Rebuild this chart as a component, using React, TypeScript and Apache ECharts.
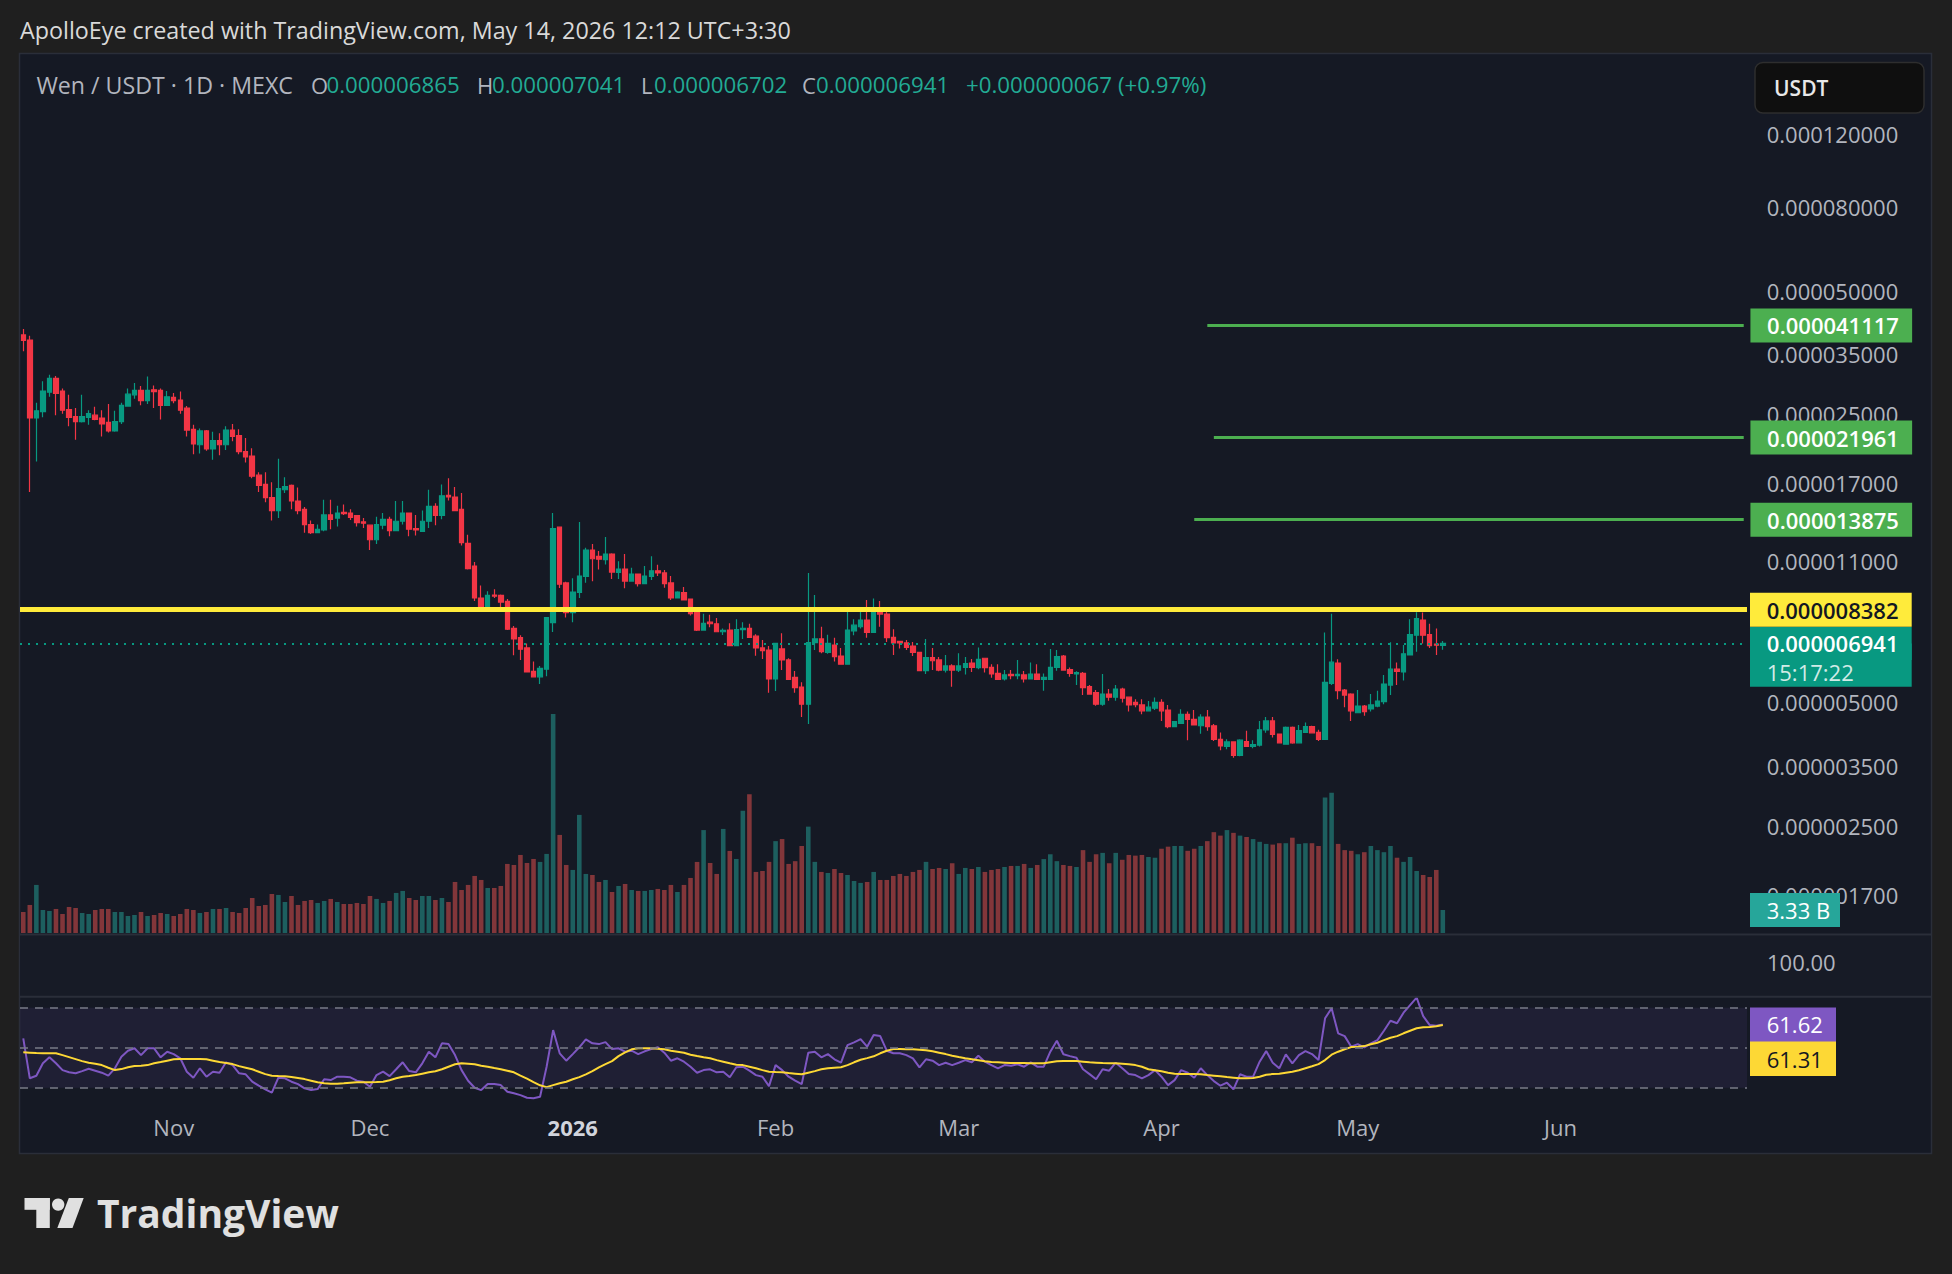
import React, { useEffect, useRef } from "react";
import * as echarts from "echarts";

const FONT = "'Open Sans', 'Noto Sans', sans-serif";

// ---- categories (daily, Oct 9 2025 -> Jun 29 2026) ----
const TOTAL_DAYS = 264;
const dates: string[] = [];
for (let i = 0; i < TOTAL_DAYS; i++) {
  dates.push(new Date(Date.UTC(2025, 9, 9 + i)).toISOString().slice(0, 10));
}
const MONTHS = ["Jan", "Feb", "Mar", "Apr", "May", "Jun", "Jul", "Aug", "Sep", "Oct", "Nov", "Dec"];

// ---- candles, prices in micro-USDT (1e-6): [open, high, low, close] ----
const ohlc: number[][] = [
  [39.0, 40.3, 35.6, 37.8], [37.9, 38.8, 16.2, 24.5], [24.5, 26.7, 19.2, 25.5], [25.4, 30.1, 24.6, 28.5],
  [28.3, 31.2, 27.6, 30.6], [30.6, 31.0, 24.9, 28.1], [28.5, 28.9, 25.1, 25.6], [25.7, 27.9, 23.4, 24.6],
  [24.7, 25.9, 21.7, 24.0], [24.0, 27.9, 23.9, 24.7], [24.6, 25.6, 23.6, 25.1], [24.9, 26.1, 24.2, 24.3],
  [24.5, 25.6, 22.1, 23.7], [23.9, 26.5, 22.6, 22.8], [22.8, 25.5, 22.7, 24.0], [24.0, 26.7, 23.7, 26.3],
  [26.2, 28.9, 26.1, 28.0], [27.9, 29.8, 27.3, 28.6], [28.6, 29.3, 26.3, 27.0], [27.0, 30.9, 26.5, 28.6],
  [28.7, 29.4, 25.9, 28.4], [28.6, 28.9, 24.3, 26.3], [26.3, 28.5, 26.2, 27.6], [27.5, 28.2, 26.6, 27.0],
  [27.1, 28.4, 25.1, 25.6], [25.9, 26.2, 22.1, 22.9], [23.0, 23.6, 20.0, 21.2], [21.1, 23.1, 20.1, 22.8],
  [22.8, 22.9, 20.4, 20.6], [20.6, 22.7, 19.4, 21.6], [21.6, 22.5, 19.9, 21.1], [21.1, 23.4, 20.5, 22.9],
  [22.9, 23.7, 21.5, 22.1], [22.2, 23.0, 20.0, 20.3], [20.3, 21.9, 19.1, 19.7], [19.8, 20.7, 17.5, 17.7],
  [17.8, 18.1, 16.2, 16.8], [16.9, 18.1, 15.3, 15.7], [15.7, 17.1, 13.8, 14.6], [14.6, 19.5, 14.0, 16.5],
  [16.4, 17.6, 16.1, 16.7], [16.8, 16.9, 14.7, 15.4], [15.4, 16.6, 14.3, 14.6], [14.7, 14.9, 12.9, 13.5],
  [13.5, 13.8, 12.8, 12.9], [12.9, 13.5, 12.85, 13.15], [13.1, 15.5, 13.0, 14.25], [14.25, 15.5, 13.15, 13.9],
  [14.0, 15.0, 13.35, 14.4], [14.45, 15.1, 14.25, 14.35], [14.4, 14.7, 13.85, 14.05], [14.2, 14.25, 13.35, 13.65],
  [13.7, 14.0, 13.25, 13.6], [13.45, 13.5, 11.7, 12.4], [12.4, 14.1, 12.1, 13.5], [13.45, 14.4, 13.15, 13.9],
  [13.9, 14.1, 12.65, 13.05], [13.05, 15.4, 13.0, 13.75], [13.75, 15.4, 13.5, 14.4], [14.4, 14.45, 12.65, 13.15],
  [13.2, 14.25, 12.7, 13.1], [13.0, 14.6, 12.98, 13.75], [13.75, 16.4, 13.25, 14.95], [14.95, 15.2, 13.45, 14.2],
  [14.2, 16.9, 13.9, 15.85], [15.9, 17.5, 15.45, 15.75], [15.75, 16.65, 14.55, 14.6], [14.7, 16.1, 12.0, 12.2],
  [12.15, 12.75, 10.5, 10.55], [10.7, 10.95, 8.8, 8.95], [8.95, 9.6, 8.43, 8.45], [8.45, 9.3, 8.4, 9.08],
  [9.1, 9.4, 8.95, 9.05], [9.08, 9.13, 8.5, 8.75], [8.78, 8.9, 7.48, 7.52], [7.55, 7.65, 6.5, 7.12],
  [7.17, 7.27, 6.33, 6.72], [6.77, 6.94, 5.9, 5.92], [5.94, 6.27, 5.74, 5.76], [5.76, 6.12, 5.53, 6.04],
  [6.01, 8.05, 5.78, 8.02], [7.8, 14.4, 7.4, 13.2], [13.3, 13.35, 9.47, 9.67], [9.74, 9.8, 8.02, 8.25],
  [8.25, 10.0, 7.82, 9.25], [9.23, 13.7, 8.95, 10.12], [10.1, 11.85, 9.75, 11.7], [11.7, 12.1, 9.83, 11.15],
  [11.3, 11.65, 10.5, 11.12], [11.1, 12.6, 10.8, 11.45], [11.45, 11.5, 9.95, 10.35], [10.33, 11.0, 9.95, 10.52],
  [10.52, 11.45, 9.45, 9.84], [9.84, 10.6, 9.8, 10.23], [10.23, 10.27, 9.55, 9.7], [9.7, 10.7, 9.68, 10.12],
  [10.1, 11.3, 9.9, 10.42], [10.42, 10.78, 10.12, 10.3], [10.3, 10.47, 9.48, 9.7], [9.74, 10.12, 8.85, 8.95],
  [8.95, 9.3, 8.92, 9.25], [9.22, 9.52, 8.83, 8.85], [8.9, 8.92, 8.12, 8.2], [8.25, 8.4, 7.44, 7.48],
  [7.48, 8.2, 7.45, 7.77], [7.82, 8.15, 7.6, 7.75], [7.75, 8.0, 7.39, 7.41], [7.41, 7.55, 7.28, 7.47],
  [7.48, 7.77, 6.84, 6.86], [6.86, 7.95, 6.84, 7.5], [7.5, 7.82, 7.12, 7.55], [7.55, 7.75, 7.16, 7.18],
  [7.23, 7.31, 6.48, 6.77], [6.77, 7.08, 6.36, 6.67], [6.69, 6.84, 5.27, 5.69], [5.69, 6.95, 5.32, 6.94],
  [6.73, 7.35, 5.98, 6.33], [6.33, 6.39, 5.66, 5.68], [5.74, 5.95, 5.27, 5.42], [5.44, 5.59, 4.6, 4.94],
  [4.94, 10.3, 4.42, 6.97], [6.97, 9.1, 6.69, 7.12], [7.12, 7.62, 6.57, 6.63], [6.6, 7.29, 6.55, 6.94],
  [6.88, 7.17, 6.27, 6.45], [6.47, 6.77, 6.16, 6.18], [6.18, 8.47, 6.17, 7.48], [7.45, 7.95, 7.27, 7.69],
  [7.62, 8.3, 7.55, 7.91], [7.91, 8.85, 7.17, 7.38], [7.38, 8.93, 7.36, 8.33], [8.33, 8.8, 7.62, 8.18],
  [8.18, 8.3, 7.0, 7.17], [7.18, 7.52, 6.51, 6.96], [7.02, 7.04, 6.75, 6.96], [6.96, 7.08, 6.69, 6.79],
  [6.84, 7.0, 6.47, 6.6], [6.6, 6.62, 5.95, 5.96], [5.96, 7.12, 5.85, 6.41], [6.41, 6.77, 5.98, 6.3],
  [6.33, 6.43, 5.94, 5.98], [5.98, 6.51, 5.9, 6.12], [6.12, 6.18, 5.45, 5.98], [5.98, 6.57, 5.92, 6.12],
  [6.07, 6.43, 5.83, 6.2], [6.22, 6.36, 5.92, 6.07], [6.06, 6.79, 6.01, 6.35], [6.39, 6.4, 5.9, 6.06],
  [6.07, 6.18, 5.73, 5.85], [5.87, 6.18, 5.67, 5.68], [5.69, 5.98, 5.64, 5.82], [5.84, 5.98, 5.68, 5.8],
  [5.8, 6.33, 5.68, 5.84], [5.82, 5.95, 5.58, 5.69], [5.69, 6.24, 5.68, 5.85], [5.85, 6.18, 5.67, 5.68],
  [5.68, 5.87, 5.33, 5.74], [5.68, 6.73, 5.67, 6.07], [6.07, 6.69, 5.96, 6.45], [6.47, 6.51, 5.96, 5.98],
  [6.0, 6.07, 5.76, 5.87], [5.85, 5.94, 5.5, 5.9], [5.87, 5.92, 5.2, 5.42], [5.45, 5.5, 5.22, 5.23],
  [5.27, 5.35, 4.9, 4.94], [4.94, 5.85, 4.9, 5.23], [5.23, 5.38, 5.04, 5.14], [5.14, 5.5, 5.04, 5.38],
  [5.38, 5.42, 4.99, 5.11], [5.14, 5.16, 4.74, 4.92], [4.99, 5.08, 4.86, 4.93], [4.92, 5.08, 4.67, 4.76],
  [4.76, 5.03, 4.75, 4.86], [4.83, 5.13, 4.78, 4.99], [4.99, 5.08, 4.5, 4.76], [4.78, 4.92, 4.32, 4.36],
  [4.36, 4.5, 4.34, 4.48], [4.44, 4.8, 4.42, 4.67], [4.67, 4.74, 4.04, 4.54], [4.54, 4.78, 4.39, 4.4],
  [4.38, 4.67, 4.19, 4.6], [4.6, 4.78, 4.26, 4.36], [4.38, 4.42, 4.02, 4.06], [4.06, 4.22, 3.82, 3.91],
  [3.9, 4.06, 3.84, 4.0], [4.0, 4.01, 3.66, 3.71], [3.71, 4.06, 3.69, 4.04], [4.01, 4.26, 3.89, 3.9],
  [3.9, 4.04, 3.86, 3.94], [3.93, 4.5, 3.9, 4.28], [4.28, 4.6, 4.21, 4.5], [4.5, 4.6, 4.1, 4.17],
  [4.18, 4.19, 3.97, 3.98], [3.95, 4.36, 3.94, 4.34], [4.34, 4.36, 3.96, 3.98], [3.98, 4.4, 3.97, 4.26],
  [4.22, 4.46, 4.21, 4.36], [4.36, 4.38, 4.2, 4.21], [4.22, 4.28, 4.02, 4.06], [4.06, 7.38, 4.05, 5.58],
  [5.55, 8.2, 5.5, 6.25], [6.22, 6.35, 5.08, 5.33], [5.35, 5.38, 4.86, 5.2], [5.23, 5.25, 4.5, 4.76],
  [4.71, 5.35, 4.7, 4.89], [4.89, 4.92, 4.63, 4.74], [4.81, 5.23, 4.74, 4.92], [4.89, 5.33, 4.86, 5.03],
  [5.01, 5.82, 4.94, 5.53], [5.5, 6.99, 5.2, 6.01], [6.01, 6.24, 5.5, 5.94], [5.92, 6.88, 5.64, 6.55],
  [6.51, 7.95, 6.5, 7.29], [7.27, 8.27, 6.63, 7.98], [7.91, 8.25, 6.94, 7.27], [7.29, 7.75, 6.77, 6.86],
  [6.92, 7.55, 6.51, 6.874], [6.865, 7.041, 6.702, 6.941],
];

// ---- volume, billions ----
const volumes: number[] = [
  3.04, 4.06, 6.96, 3.33, 3.19, 3.48, 2.75, 3.77, 3.62, 2.90,
  2.75, 3.33, 3.48, 3.48, 3.04, 3.04, 2.46, 2.61, 3.04, 2.46,
  2.61, 2.90, 2.75, 2.46, 2.75, 3.48, 3.33, 2.90, 3.04, 3.48,
  3.48, 3.62, 3.04, 2.90, 3.62, 5.07, 3.91, 4.06, 5.65, 5.51,
  4.49, 5.36, 4.06, 4.64, 4.78, 4.35, 4.64, 4.93, 4.49, 4.20,
  4.20, 4.35, 4.20, 5.36, 4.93, 4.35, 4.64, 5.80, 6.09, 5.07,
  4.78, 5.36, 5.36, 4.78, 5.07, 4.49, 7.39, 6.23, 6.96, 8.26,
  7.68, 6.52, 6.52, 6.81, 10.0, 9.85, 11.3, 10.14, 10.72, 10.29,
  11.45, 31.7, 14.2, 9.85, 9.13, 17.1, 8.55, 8.40, 7.39, 7.68,
  5.94, 6.81, 7.10, 6.23, 6.09, 6.09, 6.23, 6.38, 6.23, 6.96,
  5.94, 6.96, 7.97, 10.29, 14.9, 10.14, 8.55, 15.07, 11.88, 10.72,
  17.7, 20.1, 8.84, 8.98, 10.3, 13.3, 13.6, 10.0, 10.4, 12.6,
  15.4, 10.3, 8.84, 8.69, 9.27, 8.69, 8.40, 7.53, 7.25, 7.39,
  8.84, 7.68, 7.68, 8.26, 8.55, 8.26, 8.84, 9.13, 10.3, 9.27,
  9.42, 9.27, 10.1, 8.55, 9.42, 9.27, 9.56, 8.84, 9.13, 9.27,
  9.56, 9.71, 9.71, 10.0, 9.42, 9.85, 10.7, 11.4, 10.4, 9.85,
  9.71, 9.56, 12.0, 10.3, 11.4, 11.6, 10.1, 11.6, 10.6, 11.3,
  11.2, 11.3, 11.0, 10.9, 12.2, 12.5, 12.6, 12.6, 11.9, 12.2,
  12.6, 13.3, 14.6, 14.1, 14.9, 14.5, 14.1, 13.9, 13.6, 13.2,
  12.9, 12.8, 13.0, 13.0, 13.8, 12.9, 13.0, 13.0, 12.6, 19.6,
  20.3, 12.9, 12.0, 11.9, 11.4, 11.7, 12.6, 12.0, 11.7, 12.6,
  10.9, 10.3, 11.0, 8.98, 8.40, 8.11, 9.13, 3.33,
];

// ---- RSI and its moving average ----
const rsi: number[] = [
  54.7, 34.7, 36.0, 42.2, 45.2, 42.2, 38.8, 37.7, 37.2, 38.3,
  39.5, 38.5, 37.5, 36.0, 39.7, 45.5, 48.5, 49.7, 46.3, 49.7,
  49.7, 45.2, 48.0, 46.8, 44.7, 38.0, 35.0, 39.7, 35.5, 38.0,
  37.5, 42.7, 41.3, 37.2, 36.7, 33.0, 31.0, 29.2, 27.5, 35.0,
  34.7, 33.0, 31.8, 29.7, 28.8, 29.3, 34.2, 33.8, 35.5, 35.5,
  35.2, 33.5, 33.0, 30.5, 36.3, 38.0, 35.8, 39.2, 42.7, 38.3,
  37.7, 42.2, 48.0, 45.2, 52.2, 51.8, 46.3, 38.8, 33.5, 30.0,
  28.8, 31.8, 31.8, 31.3, 28.0, 27.2, 26.3, 25.0, 24.7, 25.5,
  40.5, 58.8, 47.2, 43.5, 46.8, 50.2, 54.2, 52.2, 51.8, 52.8,
  49.3, 49.7, 48.0, 48.5, 46.8, 48.2, 49.3, 50.2, 47.5, 43.5,
  44.7, 43.0, 40.5, 37.5, 38.8, 39.2, 37.7, 38.0, 35.2, 40.2,
  40.5, 38.5, 36.3, 35.5, 30.8, 41.3, 38.8, 35.5, 33.5, 31.8,
  47.5, 48.0, 45.2, 46.8, 44.2, 42.5, 51.3, 52.7, 54.3, 50.5,
  56.3, 55.8, 48.5, 47.2, 47.2, 46.3, 44.7, 40.2, 44.2, 43.5,
  41.3, 42.5, 41.3, 42.5, 43.8, 42.7, 46.0, 43.0, 41.3, 39.7,
  41.3, 41.0, 41.7, 40.5, 42.7, 40.5, 40.5, 48.0, 53.5, 46.7,
  45.8, 45.0, 39.2, 36.8, 34.2, 39.2, 38.5, 42.5, 39.7, 36.8,
  36.3, 34.7, 36.3, 38.8, 35.5, 31.3, 33.8, 38.8, 37.5, 35.0,
  39.7, 36.3, 33.3, 31.0, 32.5, 29.2, 36.7, 35.5, 35.5, 43.0,
  48.3, 42.5, 39.7, 46.7, 42.2, 46.3, 48.3, 46.8, 43.8, 64.7,
  69.7, 57.2, 55.8, 50.5, 51.8, 50.2, 52.2, 53.8, 58.5, 63.5,
  62.2, 67.5, 71.3, 75.0, 65.8, 61.3, 61.0, 61.62,
];
const rsiMa: number[] = [
  47.7, 47.5, 47.3, 47.2, 47.2, 47.2, 46.3, 45.3, 44.3, 43.3,
  42.5, 42.0, 41.3, 40.0, 38.8, 39.3, 40.2, 40.8, 41.0, 41.3,
  42.2, 42.8, 43.5, 44.2, 44.3, 44.3, 44.3, 44.3, 44.2, 43.5,
  42.8, 42.3, 41.8, 40.8, 40.0, 39.2, 38.0, 36.8, 36.0, 35.8,
  35.7, 35.3, 34.8, 34.3, 33.5, 32.7, 32.2, 32.0, 32.0, 32.2,
  32.5, 32.7, 32.7, 32.7, 32.8, 33.0, 33.7, 34.7, 35.5, 35.8,
  36.3, 37.0, 37.7, 38.2, 39.2, 40.5, 41.7, 42.2, 42.0, 41.7,
  41.0, 40.5, 39.8, 39.2, 38.5, 37.7, 36.0, 34.5, 32.8, 31.2,
  30.3, 31.3, 32.2, 33.0, 34.2, 35.3, 36.7, 38.3, 40.2, 41.8,
  43.3, 45.8, 47.7, 49.2, 49.7, 49.7, 49.7, 49.5, 49.2, 48.5,
  48.0, 47.5, 46.5, 45.8, 45.2, 44.7, 43.8, 43.0, 42.2, 41.5,
  41.3, 40.5, 39.7, 38.8, 38.0, 37.8, 37.7, 37.3, 37.0, 36.7,
  37.5, 38.3, 39.2, 39.7, 40.0, 40.2, 41.3, 42.7, 44.0, 44.8,
  45.7, 47.2, 48.5, 49.3, 49.3, 49.2, 49.2, 49.0, 48.7, 48.2,
  47.5, 46.8, 46.0, 45.3, 44.7, 44.2, 43.7, 43.2, 42.8, 42.7,
  42.5, 42.3, 42.3, 42.3, 42.2, 42.2, 42.2, 42.7, 43.2, 43.3,
  43.3, 43.3, 43.0, 42.7, 42.5, 42.3, 42.2, 42.2, 42.0, 41.7,
  41.3, 40.5, 39.2, 38.7, 38.2, 37.5, 37.0, 36.8, 36.8, 36.8,
  36.7, 36.3, 36.0, 35.7, 35.3, 35.0, 34.7, 34.7, 34.8, 35.5,
  36.5, 36.8, 37.0, 37.5, 38.0, 38.7, 39.7, 40.7, 41.8, 43.8,
  46.5, 48.0, 49.2, 50.3, 50.5, 50.8, 51.7, 52.5, 53.8, 55.0,
  55.8, 57.2, 58.5, 59.7, 60.2, 60.3, 60.7, 61.31,
];

// ---- levels and axis ticks (micro-USDT) ----
const priceTicks = [120, 80, 50, 35, 25, 17, 11, 5, 3.5, 2.5, 1.7];
const resistanceLevel = 8.382;
const targetLevels = [41.117, 21.961, 13.875];
const targetStartIndex = [181, 182, 179];
const countdown = "15:17:22";
const rsiLevels = [70, 50, 30];
const emptyPaneLabel = "100.00";

// ---- colours ----
const UP = "#089981";
const DOWN = "#f23645";
const VOL_UP = "rgba(38,166,154,0.5)";
const VOL_DOWN = "rgba(239,83,80,0.5)";
const AXIS_TXT = "#b2b5be";
const PANEL = "#151924";

// ---- layout ----
const G_LEFT = 20;
const G_WIDTH = 1727;
const PRICE_TOP = 54;
const PRICE_H = 880;
const PRICE_MIN = 1.3659;
const PRICE_MAX = 187.8;
const VOL_TOP = 634;
const VOL_H = 299;
const VOL_MAX = 43.29;
const RSI_TOP = 998;
const RSI_H = 102;
const RSI_MIN = 23.85;
const RSI_MAX = 74.85;

const fmtPrice = (v: number) => (v * 1e-6).toFixed(9);

const boxLabel = (text: string, bg: string, color: string, distance: number, width: number, padding: number[], extra: any = {}) => ({
  show: true,
  position: "end",
  distance,
  formatter: text,
  backgroundColor: bg,
  color,
  fontFamily: FONT,
  fontSize: 22,
  fontWeight: 600,
  lineHeight: 22,
  width,
  padding,
  ...extra,
});

function buildOption() {
  const last = ohlc[ohlc.length - 1];
  const prevClose = ohlc[ohlc.length - 2][3];
  const lastClose = last[3];
  const change = lastClose - prevClose;
  const changePct = (change / prevClose) * 100;
  const endIdx = TOTAL_DAYS - 1;

  const candleData = ohlc.map(([o, h, l, c]) => [o, c, l, h]);
  const volData = volumes.map((v, i) => ({
    value: v,
    itemStyle: { color: ohlc[i][3] >= ohlc[i][0] ? VOL_UP : VOL_DOWN },
  }));

  const invisible = { color: "rgba(0,0,0,0)", width: 1, type: "solid" };

  const priceMarkLines: any[] = [];
  priceTicks.forEach((t) =>
    priceMarkLines.push({
      yAxis: t,
      lineStyle: invisible,
      label: {
        show: true,
        position: "end",
        distance: 19.7,
        formatter: fmtPrice(t),
        color: AXIS_TXT,
        fontFamily: FONT,
        fontSize: 22,
      },
    })
  );
  targetLevels.forEach((lv, k) =>
    priceMarkLines.push([
      {
        coord: [targetStartIndex[k], lv],
        lineStyle: { color: "#4caf50", width: 3, type: "solid" },
        label: boxLabel(fmtPrice(lv), "#4caf50", "#ffffff", 6.7, 136, [6, 9, 6, 16.7]),
      },
      { coord: [endIdx, lv] },
    ])
  );
  priceMarkLines.push({
    yAxis: resistanceLevel,
    lineStyle: { color: "#ffeb3b", width: 5, type: "solid" },
    label: boxLabel(fmtPrice(resistanceLevel), "#ffeb3b", "#131722", 3, 136, [6, 9, 6, 16.7]),
  });
  // countdown box sits under the last-price box
  priceMarkLines.push({
    yAxis: lastClose,
    lineStyle: invisible,
    label: boxLabel(countdown, UP, "rgba(255,255,255,0.82)", 3, 136, [17.3, 9, 4, 16.7], {
      verticalAlign: "top",
      fontWeight: 500,
    }),
  });
  priceMarkLines.push({
    yAxis: lastClose,
    lineStyle: { color: UP, width: 2, type: [2, 6] },
    label: boxLabel(fmtPrice(lastClose), UP, "#ffffff", 3, 136, [6, 9, 5, 16.7]),
  });

  const rsiMarkLines: any[] = rsiLevels.map((lv) => ({
    yAxis: lv,
    lineStyle: { color: "#787b86", width: 1.5, type: [8, 7] },
    label: { show: false },
  }));
  const maLast = rsiMa[rsiMa.length - 1];
  const rsiLast = rsi[rsi.length - 1];
  rsiMarkLines.push({
    yAxis: maLast,
    lineStyle: invisible,
    label: boxLabel(maLast.toFixed(2), "#fdd835", "#131722", 3, 56, [22.9, 13.3, 6, 16.7], {
      verticalAlign: "top",
      fontWeight: 500,
    }),
  });
  rsiMarkLines.push({
    yAxis: rsiLast,
    lineStyle: invisible,
    label: boxLabel(rsiLast.toFixed(2), "#7e57c2", "#ffffff", 3, 56, [6, 13.3, 6, 16.7], { fontWeight: 500 }),
  });

  const legendY = 84.7;
  const txt = (text: string, x: number, y: number, fill: string, size: number, extra: any = {}) => ({
    type: "text",
    z: 20,
    style: {
      text,
      x,
      y,
      fill,
      fontFamily: FONT,
      fontSize: size,
      verticalAlign: "middle",
      ...extra,
    },
  });

  const LOGO = "#e0e0e0";
  const graphic: any[] = [
    // chart panel
    {
      type: "rect",
      z: 0,
      shape: { x: 19.5, y: 53.5, width: 1912, height: 1100 },
      style: { fill: PANEL, stroke: "#2a2e39", lineWidth: 1.5 },
    },
    {
      type: "rect",
      z: 0,
      shape: { x: 20.5, y: 935.5, width: 1910.5, height: 61 },
      style: { fill: "#171b26" },
    },
    {
      type: "line",
      z: 20,
      shape: { x1: 20, y1: 934.6, x2: 1931, y2: 934.6 },
      style: { stroke: "#2a2e39", lineWidth: 2 },
    },
    {
      type: "line",
      z: 20,
      shape: { x1: 20, y1: 996.8, x2: 1931, y2: 996.8 },
      style: { stroke: "#2a2e39", lineWidth: 2 },
    },
    // header
    txt("ApolloEye created with TradingView.com, May 14, 2026 12:12 UTC+3:30", 20, 30, "#d9d9d9", 23.3),
    // legend
    txt("Wen / USDT · 1D · MEXC", 36.4, legendY, AXIS_TXT, 23.2),
    txt("O", 311, legendY, AXIS_TXT, 22),
    txt(fmtPrice(last[0]), 326.5, legendY, "#22ab94", 22.3),
    txt("H", 477, legendY, AXIS_TXT, 22),
    txt(fmtPrice(last[1]), 492, legendY, "#22ab94", 22.3),
    txt("L", 641, legendY, AXIS_TXT, 22),
    txt(fmtPrice(last[2]), 654, legendY, "#22ab94", 22.3),
    txt("C", 802, legendY, AXIS_TXT, 22),
    txt(fmtPrice(last[3]), 816, legendY, "#22ab94", 22.3),
    txt(
      `${change >= 0 ? "+" : "-"}${fmtPrice(Math.abs(change))} (${change >= 0 ? "+" : "-"}${Math.abs(changePct).toFixed(2)}%)`,
      966,
      legendY,
      "#22ab94",
      22.3
    ),
    // currency button
    {
      type: "rect",
      z: 20,
      shape: { x: 1755, y: 62.5, width: 169, height: 50.5, r: 8 },
      style: { fill: "#0f0f0f", stroke: "#2e2e2e", lineWidth: 1.5 },
    },
    txt("USDT", 1774, 88, "#e8e8e8", 21, { fontWeight: 600 }),
    // empty pane scale label
    txt(emptyPaneLabel, 1767, 961.7, AXIS_TXT, 22),
    // TradingView logo
    { type: "rect", z: 20, shape: { x: 24.5, y: 1198, width: 25.3, height: 11.8 }, style: { fill: LOGO } },
    { type: "rect", z: 20, shape: { x: 36.3, y: 1198, width: 13.5, height: 30 }, style: { fill: LOGO } },
    { type: "circle", z: 20, shape: { cx: 58.2, cy: 1204.6, r: 6.2 }, style: { fill: LOGO } },
    {
      type: "polygon",
      z: 20,
      shape: { points: [[68.8, 1198], [83.7, 1198], [72.5, 1228], [57.3, 1228]] },
      style: { fill: LOGO },
    },
    txt("TradingView", 97, 1212, LOGO, 39, { fontWeight: 700 }),
  ];

  const xAxis = [0, 1, 2].map((g) => ({
    type: "category",
    gridIndex: g,
    data: dates,
    boundaryGap: true,
    axisLine: { show: false },
    axisTick: { show: false },
    splitLine: { show: false },
    axisPointer: { show: false },
    axisLabel:
      g === 2
        ? {
            show: true,
            interval: (_i: number, v: string) => v.endsWith("-01"),
            formatter: (v: string) => {
              const m = Number(v.slice(5, 7));
              return m === 1 ? `{b|${v.slice(0, 4)}}` : MONTHS[m - 1];
            },
            color: AXIS_TXT,
            fontFamily: FONT,
            fontSize: 22,
            lineHeight: 22,
            margin: 16,
            rich: {
              b: { fontWeight: 700, color: "#d1d4dc", fontFamily: FONT, fontSize: 22, lineHeight: 22 },
            },
          }
        : { show: false },
  }));

  return {
    animation: false,
    backgroundColor: "#1f1f1f",
    textStyle: { fontFamily: FONT },
    graphic,
    grid: [
      { left: G_LEFT, top: PRICE_TOP, width: G_WIDTH, height: PRICE_H },
      { left: G_LEFT, top: VOL_TOP, width: G_WIDTH, height: VOL_H },
      { left: G_LEFT, top: RSI_TOP, width: G_WIDTH, height: RSI_H },
    ],
    xAxis,
    yAxis: [
      { type: "log", logBase: 10, gridIndex: 0, min: PRICE_MIN, max: PRICE_MAX, show: false, splitLine: { show: false } },
      { type: "value", gridIndex: 1, min: 0, max: VOL_MAX, show: false, splitLine: { show: false } },
      { type: "value", gridIndex: 2, min: RSI_MIN, max: RSI_MAX, show: false, splitLine: { show: false } },
    ],
    series: [
      {
        name: "Wen/USDT",
        type: "candlestick",
        xAxisIndex: 0,
        yAxisIndex: 0,
        data: candleData,
        barWidth: "76%",
        z: 3,
        itemStyle: { color: UP, color0: DOWN, borderColor: UP, borderColor0: DOWN, borderWidth: 1.2 },
        markLine: {
          symbol: "none",
          silent: true,
          precision: 4,
          animation: false,
          data: priceMarkLines,
        },
      },
      {
        name: "Volume",
        type: "bar",
        xAxisIndex: 1,
        yAxisIndex: 1,
        data: volData,
        barWidth: "70%",
        z: 1,
        markLine: {
          symbol: "none",
          silent: true,
          precision: 4,
          animation: false,
          data: [
            {
              yAxis: volumes[volumes.length - 1],
              lineStyle: invisible,
              label: boxLabel(`${volumes[volumes.length - 1].toFixed(2)} B`, "#26a69a", "#ffffff", 3, 63.3, [6, 10, 6, 16.7], {
                fontWeight: 500,
              }),
            },
          ],
        },
      },
      {
        name: "RSI",
        type: "line",
        xAxisIndex: 2,
        yAxisIndex: 2,
        data: rsi,
        showSymbol: false,
        symbol: "none",
        z: 3,
        lineStyle: { color: "#7e57c2", width: 2 },
        markArea: {
          silent: true,
          itemStyle: { color: "rgba(126,87,194,0.1)" },
          data: [[{ yAxis: rsiLevels[0] }, { yAxis: rsiLevels[2] }]],
        },
        markLine: {
          symbol: "none",
          silent: true,
          precision: 4,
          animation: false,
          data: rsiMarkLines,
        },
      },
      {
        name: "RSI MA",
        type: "line",
        xAxisIndex: 2,
        yAxisIndex: 2,
        data: rsiMa,
        showSymbol: false,
        symbol: "none",
        z: 4,
        lineStyle: { color: "#fdd835", width: 2 },
      },
    ],
  };
}

export default function App() {
  const ref = useRef<HTMLDivElement>(null);
  useEffect(() => {
    document.body.style.margin = "0";
    document.body.style.background = "#1f1f1f";
    const chart = echarts.init(ref.current!, null, { renderer: "svg" });
    chart.setOption(buildOption() as any);
    return () => chart.dispose();
  }, []);
  return <div ref={ref} style={{ width: 1952, height: 1274 }} />;
}
